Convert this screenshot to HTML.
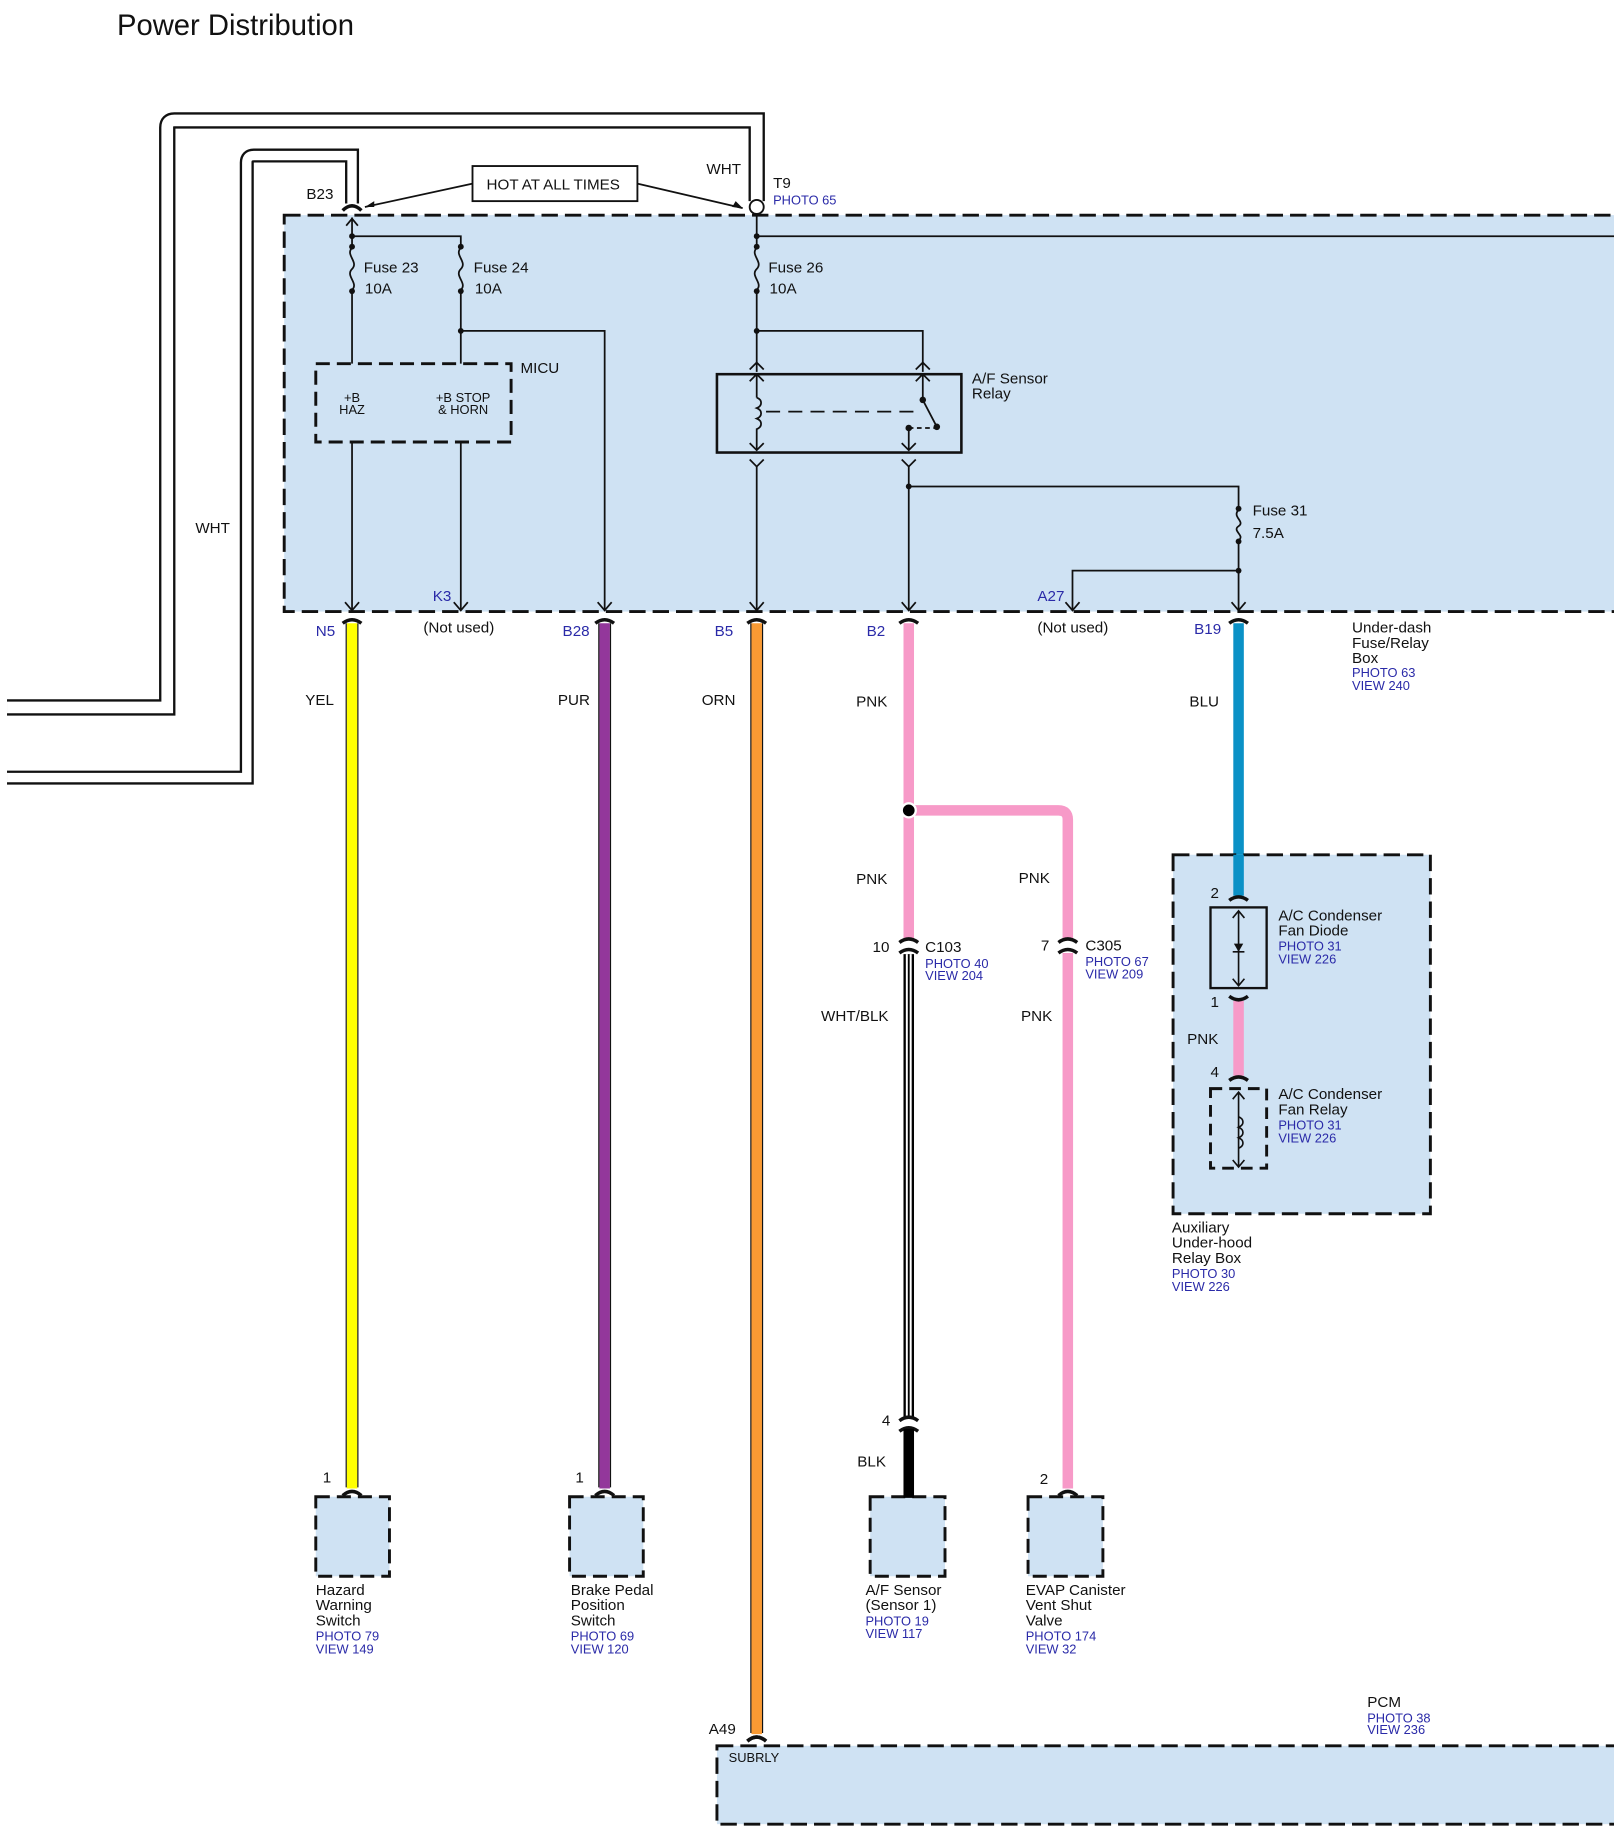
<!DOCTYPE html>
<html><head><meta charset="utf-8"><style>
html,body{margin:0;padding:0;background:#fff;}
svg{display:block;}
text{font-family:"Liberation Sans",Arial,sans-serif;font-size:13px;fill:#111;}
.b{fill:#2a2aa8;font-size:11px;}
.bl{fill:#2a2aa8;}
.s{font-size:11px;}
</style></head><body>
<svg width="1614" height="1830" viewBox="0 0 1380 1565" preserveAspectRatio="none" xmlns="http://www.w3.org/2000/svg">
<text x="100" y="30" style="font-size:25px">Power Distribution</text>

<!-- main box -->
<rect x="243" y="184" width="1145" height="339" fill="#cfe2f3" stroke="#111" stroke-width="2.5" stroke-dasharray="14,6"/>

<!-- WHT cables -->
<path d="M6,605 H143 V109 Q143,103 149,103 H647 V172" fill="none" stroke="#111" stroke-width="14"/>
<path d="M6,605 H143 V109 Q143,103 149,103 H647 V172" fill="none" stroke="#fff" stroke-width="10"/>
<path d="M6,665 H211 V139 Q211,133 217,133 H301 V174" fill="none" stroke="#111" stroke-width="12"/>
<path d="M6,665 H211 V139 Q211,133 217,133 H301 V174" fill="none" stroke="#fff" stroke-width="8"/>
<circle cx="647" cy="177" r="6" fill="#fff" stroke="#111" stroke-width="1.6"/>
<path d="M293,180 Q301,172 309,180" fill="none" stroke="#111" stroke-width="3"/>
<text x="167" y="456">WHT</text>
<text x="604" y="149">WHT</text>
<text x="262" y="170">B23</text>
<text x="661" y="161">T9</text>
<text x="661" y="175" class="b">PHOTO 65</text>
<rect x="404" y="142" width="141" height="30" fill="#fff" stroke="#111" stroke-width="1.6"/>
<text x="416" y="162">HOT AT ALL TIMES</text>
<path d="M404,157 L312,177 M545,157 L635,178" stroke="#111" stroke-width="1.5" fill="none"/>
<path d="M312,177 l8,-5 l0,5z M635,178 l-9,-1 l3,-5z" fill="#111"/>

<g stroke="#111" stroke-width="1.5" fill="none">
<path d="M301,186 V210 M301,250 V311" />
<path d="M296,193 l5,-6 l5,6"/>
<path d="M301,202 H394 V210 M394,250 V311"/>
<path d="M394,283 H517 V522"/>
<path d="M301,378 V522"/>
<path d="M394,378 V522"/>
<!-- arrowheads at box bottom -->
<path d="M295,515 l6,7 l6,-7 M388,515 l6,7 l6,-7 M511,515 l6,7 l6,-7 M641,515 l6,7 l6,-7 M771,515 l6,7 l6,-7 M911,515 l6,7 l6,-7 M1053,515 l6,7 l6,-7"/>
<!-- fuses -->
<path d="M301,212 c-6,6 6,12 0,18 c-6,6 6,12 0,18"/>
<path d="M394,212 c-6,6 6,12 0,18 c-6,6 6,12 0,18"/>
<path d="M647,212 c-6,6 6,12 0,18 c-6,6 6,12 0,18"/>
<path d="M1059,436 c-6,6 6,10 0,14 c-6,4 6,8 0,12"/>
<path d="M647,183 V210 M647,250 V318 M647,202 H1388"/>
<path d="M647,283 H789 V318"/>
<path d="M641,316 l6,-6 l6,6 M783,316 l6,-6 l6,6"/>
<path d="M641,326 l6,-6 l6,6 M783,326 l6,-6 l6,6 M647,320 V340 M789,320 V342"/>
<path d="M647,340 c5,2 5,7 0,9 c5,2 5,7 0,9 c5,2 5,7 0,9 V385"/>
<path d="M641,379 l6,6 l6,-6 M771,379 l6,6 l6,-6 M777,366 V385"/>
<path d="M641,393 l6,6 l6,-6 M771,393 l6,6 l6,-6"/>
<path d="M789,342 L801,365"/>
<path d="M655,352 H785" stroke-dasharray="12,7"/>
<path d="M777,366 H801" stroke-dasharray="4,3"/>
<path d="M647,399 V522"/>
<path d="M777,399 V522"/>
<path d="M777,416 H1059 V434 M1059,464 V522"/>
<path d="M1059,488 H917 V522"/>
</g>
<rect x="613" y="320" width="209" height="67" fill="none" stroke="#111" stroke-width="2.2"/>
<g fill="#111">
<circle cx="301" cy="202" r="2.5"/><circle cx="301" cy="211" r="2.5"/><circle cx="301" cy="249" r="2.5"/>
<circle cx="394" cy="211" r="2.5"/><circle cx="394" cy="249" r="2.5"/><circle cx="394" cy="283" r="2.5"/>
<circle cx="647" cy="202" r="2.5"/><circle cx="647" cy="211" r="2.5"/><circle cx="647" cy="249" r="2.5"/><circle cx="647" cy="283" r="2.5"/>
<circle cx="789" cy="342" r="2.8"/><circle cx="801" cy="365" r="2.8"/><circle cx="777" cy="366" r="2.8"/>
<circle cx="777" cy="416" r="2.5"/><circle cx="1059" cy="435" r="2.5"/><circle cx="1059" cy="463" r="2.5"/><circle cx="1059" cy="488" r="2.5"/>
</g>
<rect x="270" y="311" width="167" height="67" fill="none" stroke="#111" stroke-width="2.5" stroke-dasharray="12,6"/>
<text x="445" y="319">MICU</text>
<text x="301" y="344" class="s" text-anchor="middle">+B</text>
<text x="301" y="354" class="s" text-anchor="middle">HAZ</text>
<text x="396" y="344" class="s" text-anchor="middle">+B STOP</text>
<text x="396" y="354" class="s" text-anchor="middle">&amp; HORN</text>
<text x="311" y="233">Fuse 23</text><text x="312" y="251">10A</text>
<text x="405" y="233">Fuse 24</text><text x="406" y="251">10A</text>
<text x="657" y="233">Fuse 26</text><text x="658" y="251">10A</text>
<text x="1071" y="441">Fuse 31</text><text x="1071" y="460">7.5A</text>
<text x="831" y="328">A/F Sensor</text><text x="831" y="341">Relay</text>
<text x="370" y="514" class="bl">K3</text>
<text x="887" y="514" class="bl">A27</text>
<text x="362" y="541">(Not used)</text>
<text x="887" y="541">(Not used)</text>
<text x="270" y="544" class="bl">N5</text>
<text x="481" y="544" class="bl">B28</text>
<text x="611" y="544" class="bl">B5</text>
<text x="741" y="544" class="bl">B2</text>
<text x="1021" y="542" class="bl">B19</text>
<text x="1156" y="541">Under-dash</text><text x="1156" y="554">Fuse/Relay</text><text x="1156" y="567">Box</text>
<text x="1156" y="579" class="b">PHOTO 63</text><text x="1156" y="590" class="b">VIEW 240</text>

<!-- colored wires -->
<g stroke-width="9" fill="none">
<path d="M301,533 V1273" stroke="#ffff00"/>
<path d="M517,533 V1273" stroke="#93379b"/>
<path d="M647,533 V1483" stroke="#f99a33"/>
<path d="M777,533 V804" stroke="#f79ac8"/>
<path d="M777,693 H905 Q913,693 913,701 V804 M913,815 V1273" stroke="#f79ac8"/>
<path d="M1059,533 V766" stroke="#0b91c6"/>
<path d="M1059,856 V920" stroke="#f79ac8"/>
<path d="M777,1222 V1281" stroke="#000"/>
</g>
<g stroke="#111" stroke-width="1" fill="none">
<path d="M296,533 V1272 M306,533 V1272 M512,533 V1272 M522,533 V1272 M642,533 V1482 M652,533 V1482"/>
</g>
<path d="M777,816 V1212" stroke="#000" stroke-width="9"/>
<path d="M777,816 V1212" stroke="#fff" stroke-width="5"/>
<path d="M777,816 V1212" stroke="#000" stroke-width="1.6"/>
<circle cx="777" cy="693" r="7" fill="#fff"/><circle cx="777" cy="693" r="5" fill="#000"/>
<g stroke="#111" stroke-width="3" fill="none">
<path d="M293,533 Q301,527 309,533 M509,533 Q517,527 525,533 M639,533 Q647,527 655,533 M769,533 Q777,527 785,533 M1051,533 Q1059,527 1067,533"/>
<path d="M769,806 Q777,800 785,806 M769,815 Q777,809 785,815"/>
<path d="M905,806 Q913,800 921,806 M905,815 Q913,809 921,815"/>
<path d="M769,1215 Q777,1209 785,1215 M769,1224 Q777,1218 785,1224"/>
<path d="M293,1279 Q301,1272 309,1279 M509,1279 Q517,1272 525,1279 M905,1279 Q913,1272 921,1279 M639,1489 Q647,1482 655,1489"/>
</g>
<text x="261" y="603">YEL</text><text x="477" y="603">PUR</text><text x="600" y="603">ORN</text>
<text x="732" y="604">PNK</text><text x="1017" y="604">BLU</text>
<text x="732" y="756">PNK</text><text x="871" y="755">PNK</text>
<text x="746" y="814">10</text><text x="791" y="814">C103</text>
<text x="791" y="828" class="b">PHOTO 40</text><text x="791" y="838" class="b">VIEW 204</text>
<text x="890" y="813">7</text><text x="928" y="813">C305</text>
<text x="928" y="826" class="b">PHOTO 67</text><text x="928" y="837" class="b">VIEW 209</text>
<text x="702" y="873">WHT/BLK</text><text x="873" y="873">PNK</text>
<text x="754" y="1219">4</text><text x="733" y="1254">BLK</text>

<!-- aux box -->
<rect x="1003" y="731" width="220" height="307" fill="#cfe2f3" stroke="#111" stroke-width="2.5" stroke-dasharray="14,6"/>
<path d="M1059,731 V766" stroke="#0b91c6" stroke-width="9"/>
<path d="M1051,770 Q1059,764 1067,770" stroke="#111" stroke-width="3" fill="none"/>
<path d="M1059,856 V920" stroke="#f79ac8" stroke-width="9"/>
<path d="M1051,852 Q1059,858 1067,852 M1051,924 Q1059,918 1067,924" stroke="#111" stroke-width="3" fill="none"/>
<rect x="1035" y="776" width="48" height="69" fill="none" stroke="#111" stroke-width="2"/>
<g stroke="#111" stroke-width="1.4" fill="none">
<path d="M1059,779 V843 M1054,785 l5,-6 l5,6 M1054,837 l5,6 l5,-6 M1054,814 H1064"/>
<path d="M1059,934 V998 M1054,940 l5,-6 l5,6 M1054,992 l5,6 l5,-6"/>
<path d="M1059,955 c5,2 5,7 0,9 c5,2 5,7 0,9 c5,2 5,7 0,9"/>
</g>
<path d="M1055,807 H1063 L1059,814z" fill="#111"/>
<rect x="1035" y="931" width="48" height="68" fill="none" stroke="#111" stroke-width="2.5" stroke-dasharray="10,6"/>
<text x="1035" y="768">2</text><text x="1035" y="861">1</text><text x="1015" y="893">PNK</text><text x="1035" y="921">4</text>
<text x="1093" y="787">A/C Condenser</text><text x="1093" y="800">Fan Diode</text>
<text x="1093" y="813" class="b">PHOTO 31</text><text x="1093" y="824" class="b">VIEW 226</text>
<text x="1093" y="940">A/C Condenser</text><text x="1093" y="953">Fan Relay</text>
<text x="1093" y="966" class="b">PHOTO 31</text><text x="1093" y="977" class="b">VIEW 226</text>
<text x="1002" y="1054">Auxiliary</text><text x="1002" y="1067">Under-hood</text><text x="1002" y="1080">Relay Box</text>
<text x="1002" y="1093" class="b">PHOTO 30</text><text x="1002" y="1104" class="b">VIEW 226</text>

<!-- bottom components -->
<g fill="#cfe2f3" stroke="#111" stroke-width="2.5" stroke-dasharray="12,6">
<rect x="270" y="1280" width="63" height="68"/>
<rect x="487" y="1280" width="63" height="68"/>
<rect x="744" y="1280" width="64" height="68"/>
<rect x="879" y="1280" width="64" height="68"/>
</g>
<path d="M777,1222 V1281" stroke="#000" stroke-width="9"/>
<text x="276" y="1268">1</text><text x="492" y="1268">1</text><text x="889" y="1269">2</text>
<text x="270" y="1364">Hazard</text><text x="270" y="1377">Warning</text><text x="270" y="1390">Switch</text>
<text x="270" y="1403" class="b">PHOTO 79</text><text x="270" y="1414" class="b">VIEW 149</text>
<text x="488" y="1364">Brake Pedal</text><text x="488" y="1377">Position</text><text x="488" y="1390">Switch</text>
<text x="488" y="1403" class="b">PHOTO 69</text><text x="488" y="1414" class="b">VIEW 120</text>
<text x="740" y="1364">A/F Sensor</text><text x="740" y="1377">(Sensor 1)</text>
<text x="740" y="1390" class="b">PHOTO 19</text><text x="740" y="1401" class="b">VIEW 117</text>
<text x="877" y="1364">EVAP Canister</text><text x="877" y="1377">Vent Shut</text><text x="877" y="1390">Valve</text>
<text x="877" y="1403" class="b">PHOTO 174</text><text x="877" y="1414" class="b">VIEW 32</text>

<!-- PCM -->
<text x="1169" y="1460">PCM</text>
<text x="1169" y="1473" class="b">PHOTO 38</text><text x="1169" y="1483" class="b">VIEW 236</text>
<text x="606" y="1483">A49</text>
<rect x="613" y="1493" width="775" height="67" fill="#cfe2f3" stroke="#111" stroke-width="2.5" stroke-dasharray="14,6"/>
<path d="M639,1489 Q647,1482 655,1489" stroke="#111" stroke-width="3" fill="none"/>
<text x="623" y="1507" class="s">SUBRLY</text>
</svg>
</body></html>
